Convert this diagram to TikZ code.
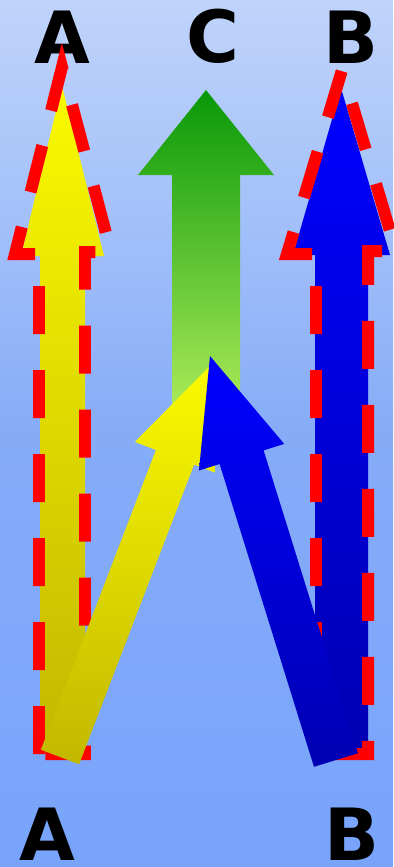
\documentclass[tikz,border=0pt]{standalone}
\usepackage{fontspec}
\setsansfont{DejaVu Sans}
\usepackage{tikz}
\definecolor{skytop}{RGB}{192,212,250}
\definecolor{skymid}{RGB}{134,172,248}
\definecolor{skybot}{RGB}{120,164,252}
\definecolor{greentop}{RGB}{8,152,8}
\definecolor{greenbot}{RGB}{186,242,96}
\definecolor{yellowtop}{RGB}{250,250,0}
\definecolor{yellowbot}{RGB}{194,184,0}
\definecolor{bluetop}{RGB}{0,0,255}
\definecolor{bluebot}{RGB}{0,0,178}
\definecolor{dashred}{RGB}{255,0,0}
\tikzset{
    letter/.style={font=\sffamily\bfseries\fontsize{41}{41}\selectfont, inner sep=0pt},
    yellow arrow/.style={top color=yellowtop, bottom color=yellowbot},
    blue arrow/.style={top color=bluetop, bottom color=bluebot},
    green arrow/.style={top color=greentop, bottom color=greenbot},
    dash outline/.style={draw=dashred, line width=0.24cm,
        dash pattern=on 0.96cm off 0.72cm},
}
\begin{document}
\begin{tikzpicture}[x=0.02cm, y=-0.02cm]
  \useasboundingbox (0,0) rectangle (393,867);
  \shade[top color=skytop, bottom color=skybot, middle color=skymid] (0,0) rectangle (393,867);
  % letters
  \node[letter] (topA) at (62,37) {A};
  \node[letter] (topC) at (213,36) {C};
  \node[letter] (topB) at (351,37) {B};
  \node[letter] (botA) at (47,834) {A};
  \node[letter] (botB) at (352,834) {B};
  % C arrow
  \shade[green arrow] (172,440) -- (172,175) -- (138,175) -- (206,90) -- (274,175)
    -- (240,175) -- (240,440) -- cycle;
  % straight arrows
  \shade[yellow arrow] (40,752) -- (40,256) -- (21,256) -- (62,86) -- (104,256)
    -- (85,256) -- (85,752) -- cycle;
  \shade[blue arrow] (315,752) -- (315,255) -- (293,255) -- (341,88) -- (390,255)
    -- (368,255) -- (368,752) -- cycle;
  \draw[dash outline] (39,754) -- (39,254) -- (15,254) -- (62,67) -- (111,252)
    -- (85,252) -- (85,754) -- cycle;
  \draw[dash outline] (316,754) -- (316,254) -- (287,254) -- (342,70) -- (396,251)
    -- (368,251) -- (368,754) -- cycle;
  % crossing arrows
  \shade[yellow arrow] (40.9,749.7) -- (155.9,450.0) -- (134.9,441.9) -- (210.1,365.8)
    -- (215.1,472.7) -- (194.1,464.6) -- (79.1,764.3) -- cycle;
  \shade[blue arrow] (314.0,766.8) -- (219.6,464.0) -- (199.0,470.5) -- (210,356)
    -- (284.2,443.9) -- (263.6,450.4) -- (358.0,753.2) -- cycle;
\end{tikzpicture}
\end{document}
